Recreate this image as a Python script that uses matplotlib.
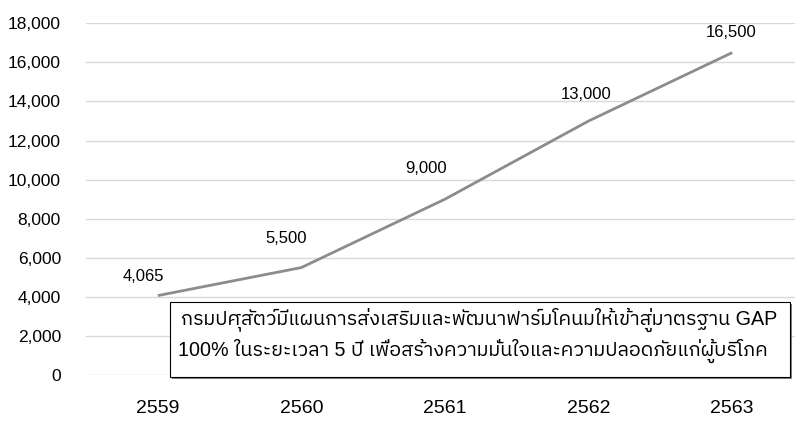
import matplotlib
matplotlib.use("Agg")
import matplotlib.pyplot as plt
from matplotlib import font_manager
from matplotlib.ft2font import FT2Font
from matplotlib.patches import Rectangle

years = ["2559", "2560", "2561", "2562", "2563"]
values = [4065, 5500, 9000, 13000, 16500]
value_labels = ["4,065", "5,500", "9,000", "13,000", "16,500"]
y_ticks = [0, 2000, 4000, 6000, 8000, 10000, 12000, 14000, 16000, 18000]
y_tick_labels = ["0", "2,000", "4,000", "6,000", "8,000", "10,000", "12,000", "14,000", "16,000", "18,000"]
note_lines = ["กรมปศุสัตว์มีแผนการส่งเสริมและพัฒนาฟาร์มโคนมให้เข้าสู่มาตรฐาน GAP",
              "100% ในระยะเวลา 5 ปี เพื่อสร้างความมั่นใจและความปลอดภัยแก่ผู้บริโภค"]

# find a font with Thai glyphs
thai = None
cands = []
for f in font_manager.fontManager.ttflist:
    try:
        cm = FT2Font(f.fname).get_charmap()
        if 0x0E01 in cm and 0x0E2A in cm and 0x0E48 in cm:
            cands.append(f.name)
    except Exception:
        pass
for c in cands:
    if "Sans" in c and "Mono" not in c:
        thai = c
        break
if thai is None and cands:
    thai = cands[0]
fams = ["Liberation Sans"] + ([thai] if thai else []) + ["DejaVu Sans"]

plt.rcParams["font.family"] = fams

W, H = 795, 423
fig = plt.figure(figsize=(W / 100, H / 100), dpi=100)
ax = fig.add_axes([86 / W, 1 - 375 / H, 718 / W, (375 - 23.3) / H])

x = list(range(len(years)))
ax.plot(x, values, color="#8c8c8c", lw=2.0, solid_capstyle="butt", zorder=3)
ax.set_xlim(-0.5, len(years) - 0.5)
ax.set_ylim(0, 18000)
ax.set_yticks(y_ticks)
ax.set_yticklabels(y_tick_labels, fontsize=12.5, color="#000000")
ax.set_xticks(x)
ax.set_xticklabels(years, fontsize=14, color="#000000")
ax.tick_params(axis="y", length=0, pad=18)
ax.tick_params(axis="x", length=0, pad=18)
ax.grid(axis="y", color="#d9d9d9", lw=1.0)
ax.set_axisbelow(True)
for s in ax.spines.values():
    s.set_visible(False)

offsets = [(-14, 19), (-15, 29), (-19, 31), (-2, 26), (-1, 20)]
for xi, v, lab, (dx, dy) in zip(x, values, value_labels, offsets):
    ax.annotate(lab, (xi, v), xytext=(dx * 0.72, dy * 0.72), textcoords="offset points",
                ha="center", va="center", fontsize=12)

# note box
bx0, by0, bx1, by1 = 170, 302, 790, 377
fig.patches.append(Rectangle((bx0 / W + 2 / W, 1 - (by1 + 2) / H), (bx1 - bx0) / W, (by1 - by0) / H,
                             transform=fig.transFigure, facecolor="#808080", edgecolor="none", zorder=5))
fig.patches.append(Rectangle((bx0 / W, 1 - by1 / H), (bx1 - bx0) / W, (by1 - by0) / H,
                             transform=fig.transFigure, facecolor="white", edgecolor="#000000", lw=0.8, zorder=6))
fig.text(181 / W, 1 - 325 / H, note_lines[0], fontsize=14.2, va="baseline", ha="left", zorder=7)
fig.text(178 / W, 1 - 356 / H, note_lines[1], fontsize=14.2, va="baseline", ha="left", zorder=7)

fig.savefig("out.png", dpi=100)
